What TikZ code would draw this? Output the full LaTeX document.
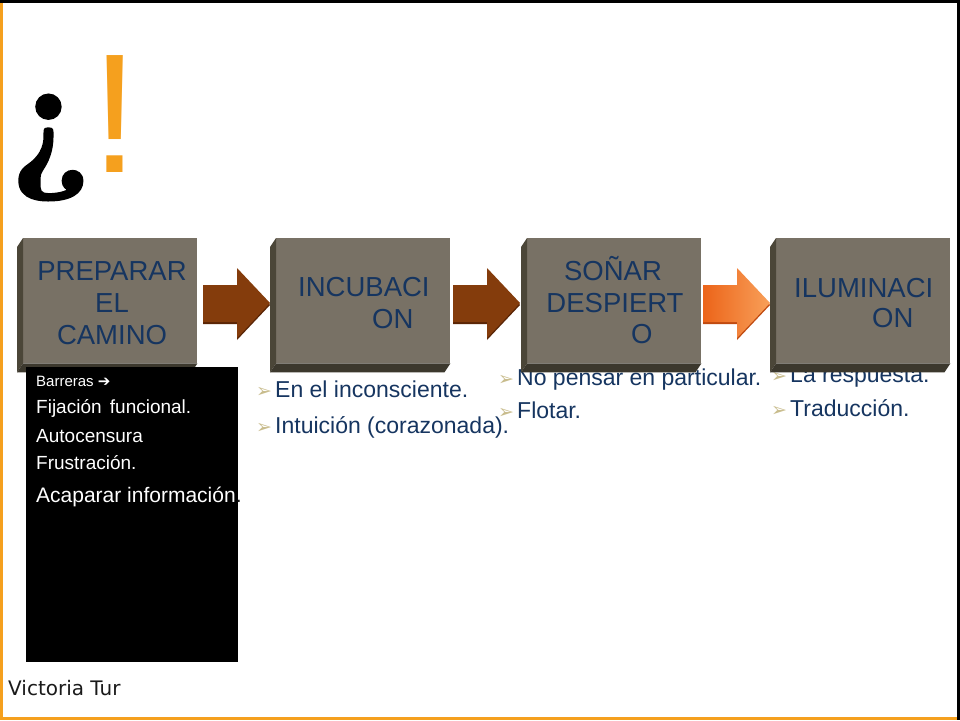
\documentclass[tikz,border=0pt]{standalone}
\usepackage{fontspec}
\setmainfont{Liberation Sans}
\newfontfamily\dejavu{DejaVu Sans}
\newfontfamily\lmrb{lmroman10-bold.otf}[FakeBold=2]
\usetikzlibrary{calc}
\definecolor{navy}{HTML}{163560}
\definecolor{facec}{HTML}{787165}
\definecolor{bevL}{HTML}{4B4638}
\definecolor{bevB}{HTML}{3C382D}
\definecolor{brownA}{HTML}{843C0C}
\definecolor{brownD}{HTML}{5A2506}
\definecolor{orgL}{HTML}{EC6419}
\definecolor{orgR}{HTML}{F8A05A}
\definecolor{orgD}{HTML}{C04A10}
\definecolor{framebar}{HTML}{F5A01E}
\definecolor{bulletc}{HTML}{C8BC8C}
\definecolor{authorc}{HTML}{1A1A1A}
\tikzset{
  facebox/.style={draw=none, fill=facec, minimum width=174pt, minimum height=125pt, inner sep=0pt, anchor=north west},
  boxtext/.style={inner sep=0pt, text=navy, font=\fontsize{27.5}{32}\selectfont},
  itemtext/.style={inner sep=0pt, anchor=base west, text=navy, font=\fontsize{23}{27}\selectfont},
  bulletmark/.style={inner sep=0pt, anchor=base west, text=bulletc, font=\dejavu\fontsize{19}{22}\selectfont},
  wtext/.style={inner sep=0pt, anchor=base west, text=white, font=\fontsize{19}{22}\selectfont},
}
\newcommand\bevel[1]{%
  \fill[bevL] (#1.north west) -- ++(-6,9) -- ($(#1.south west)+(-6,9)$) -- (#1.south west) -- cycle;
  \fill[bevB] (#1.south west) -- ++(-6,9) -- ($(#1.south east)+(-6,9)$) -- (#1.south east) -- cycle;
}
\newcommand\blockarrowpath[1]{(#1,285) -- (#1+34,285) -- (#1+34,268) -- (#1+67,303) -- (#1+34,338) -- (#1+34,322) -- (#1,322) -- cycle}
\begin{document}
\begin{tikzpicture}[x=1pt,y=-1pt]
\useasboundingbox (0,0) rectangle (960,720);
\fill[white] (0,0) rectangle (960,720);
% frame
\fill[black] (0,0) rectangle (960,3);
\fill[black] (957,0) rectangle (960,720);
\fill[framebar] (0,3) rectangle (3,720);
\fill[framebar] (0,717) rectangle (957,720);

% title marks
\node[anchor=base west, inner sep=0pt, text=black, font=\lmrb\fontsize{150}{150}\selectfont] (qmark) at (10,170) {¿};
\node[anchor=base west, inner sep=0pt, text=framebar, font=\fontsize{170}{170}\selectfont] (emark) at (91,172) {!};

% bullet items (drawn before boxes so boxes overlap them)
\node[bulletmark] (bu1) at (256,397) {➢};
\node[itemtext] (i1) at (275,397) {En el inconsciente.};
\node[bulletmark] (bu2) at (256,433) {➢};
\node[itemtext] (i2) at (275,433) {Intuición (corazonada).};
\node[bulletmark] (bu3) at (498,385) {➢};
\node[itemtext] (i3) at (517,385) {No pensar en particular.};
\node[bulletmark] (bu4) at (498,418) {➢};
\node[itemtext] (i4) at (517,418) {Flotar.};
\node[bulletmark] (bu5) at (771,382) {➢};
\node[itemtext] (i5) at (790,382) {La respuesta.};
\node[bulletmark] (bu6) at (771,416) {➢};
\node[itemtext] (i6) at (790,416) {Traducción.};

% boxes
\node[facebox] (b1) at (23,238) {};
\node[facebox] (b2) at (276,238) {};
\node[facebox] (b3) at (527,238) {};
\node[facebox] (b4) at (776,238) {};
\bevel{b1}\bevel{b2}\bevel{b3}\bevel{b4}

% box texts
\node[boxtext, anchor=base] (t1a) at (112,280) {PREPARAR};
\node[boxtext, anchor=base] (t1b) at (112,312) {EL};
\node[boxtext, anchor=base] (t1c) at (112,344) {CAMINO};
\node[boxtext, anchor=base west] (t2a) at (298,296) {INCUBACI};
\node[boxtext, anchor=base west] (t2b) at (372,328) {ON};
\node[boxtext, anchor=base] (t3a) at (613,280) {SOÑAR};
\node[boxtext, anchor=base] (t3b) at (615,312) {DESPIERT};
\node[boxtext, anchor=base west] (t3c) at (631,343) {O};
\node[boxtext, anchor=base west] (t4a) at (794,297) {ILUMINACI};
\node[boxtext, anchor=base west] (t4b) at (872,327) {ON};

% block arrows
\fill[brownD] [shift={(0,2)}] \blockarrowpath{203};
\fill[brownA] \blockarrowpath{203};
\fill[brownD] [shift={(0,2)}] \blockarrowpath{453};
\fill[brownA] \blockarrowpath{453};
\fill[orgD] [shift={(0,2)}] \blockarrowpath{703};
\shade[left color=orgL, right color=orgR] \blockarrowpath{703};

% black panel
\node[fill=black, inner sep=0pt, minimum width=212pt, minimum height=295pt, anchor=north west] (panel) at (26,367) {};
\node[inner sep=0pt, anchor=base west, text=white, font=\fontsize{15}{18}\selectfont] (p0) at (36,386) {Barreras {\dejavu\bfseries\fontsize{15}{18}\selectfont ➔}};
\node[wtext] (p1) at (36,413) {Fijación\hspace{3pt} funcional.};
\node[wtext] (p2) at (36,442) {Autocensura};
\node[wtext] (p3) at (36,469) {Frustración.};
\node[wtext, font=\fontsize{21}{24}\selectfont] (p4) at (36,502) {Acaparar información{\color{authorc}.}};

% author
\node[inner sep=0pt, anchor=base west, text=authorc, font=\dejavu\fontsize{20}{23}\selectfont] (author) at (8,695) {Victoria Tur};
\end{tikzpicture}
\end{document}
